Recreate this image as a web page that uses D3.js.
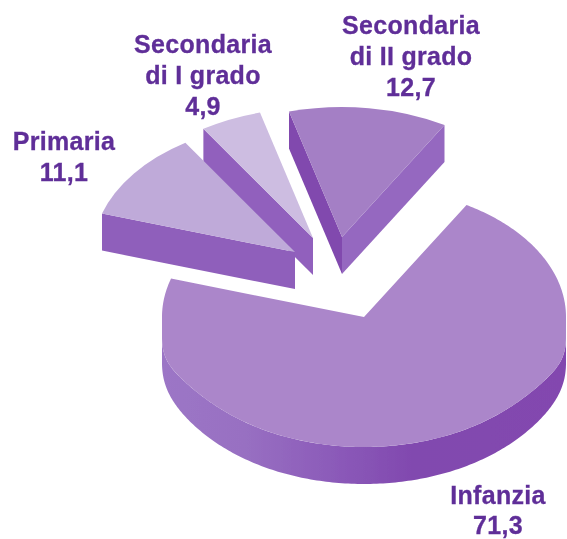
<!DOCTYPE html>
<html><head><meta charset="utf-8">
<script src="https://cdn.jsdelivr.net/npm/d3@7"></script>
<style>html,body{margin:0;padding:0;background:#fff}svg{display:block}</style>
</head><body><div id="c"></div>
<script>
const categories = ["Infanzia","Primaria","Secondaria di I grado","Secondaria di II grado"];
const values = [71.3, 11.1, 4.9, 12.7];
const valueLabels = ["71,3","11,1","4,9","12,7"];
const labelLines = [["Infanzia"],["Primaria"],["Secondaria","di I grado"],["Secondaria","di II grado"]];

// layout and style
const W=567,H=539,CX=364,CY=317,RX=202,RY=130,DEPTH=37,K=RY/RX,BULGE=20;
const rad=d=>d*Math.PI/180;
const explode=[[0,0],[-69,-65],[-51,-79],[-22,-80]];
const topFill=["#ab86ca","#bfaad9","#cdbde1","#a47fc5"];
const labelPos=[[498,503.5],[64,150],[203,53],[411,34]];
const labelLH=[30,31,31,31];
const drawOrder=[3,2,1,0];
const sideWalls={3:[["start","#8148ae"],["end","#9568c0"]],2:[["start","#9161bd"]],1:[["start","#8f5fbb"]],0:[]};

const svg=d3.select("#c").append("svg").attr("width",W).attr("height",H).attr("viewBox",`0 0 ${W} ${H}`);
const defs=svg.append("defs");
defs.append("filter").attr("id","soft").append("feGaussianBlur").attr("stdDeviation",0.45);
const grad=defs.append("linearGradient").attr("id","rim").attr("gradientUnits","userSpaceOnUse")
  .attr("x1",-RX).attr("x2",RX).attr("y1",0).attr("y2",0);
[[0,"#9c76c6"],[0.2,"#9870c2"],[0.45,"#8a58b8"],[0.62,"#8149af"],[1,"#8347af"]]
  .forEach(([o,c])=>grad.append("stop").attr("offset",o).attr("stop-color",c));

const pie=d3.pie().sort(null).startAngle(rad(30.5)).endAngle(rad(390.5));
const arcs=pie(values);
const arc=d3.arc().innerRadius(0).outerRadius(RX);
const px=a=>RX*Math.sin(a), py=a=>-RY*Math.cos(a);
// the lower half of the big slice sags a little near its side extremes
const isLower=a=>Math.cos(a)<0;
const sag=a=>isLower(a)?Math.pow(Math.abs(Math.sin(a)),12):0;
const yTop=a=>py(a)+BULGE*sag(a);
const yBot=a=>yTop(a)+DEPTH*(1-0.3*sag(a));
const line=d3.line();
const root=svg.append("g").attr("filter","url(#soft)");

drawOrder.forEach(i=>{
  const a=arcs[i],[ox,oy]=explode[i];
  const g=root.append("g").attr("transform",`translate(${CX+ox},${CY+oy})`);
  sideWalls[i].forEach(([edge,col])=>{
    const t=edge==="start"?a.startAngle:a.endAngle;
    const e=[px(t),py(t)];
    g.append("path").attr("fill",col)
      .attr("d",line([[0,0],e,[e[0],e[1]+DEPTH],[0,DEPTH]])+"Z");
  });
  if(i===0){
    const n=200,lo=rad(90.001),hi=rad(269.999);
    const sweep=d3.range(n+1).map(j=>lo+(hi-lo)*j/n);
    const pts=sweep.map(t=>[px(t),yTop(t)]).concat(sweep.slice().reverse().map(t=>[px(t),yBot(t)]));
    g.append("path").attr("fill","url(#rim)").attr("d",line(pts)+"Z");
    const m=360;
    const face=d3.range(m+1).map(j=>a.startAngle+(a.endAngle-a.startAngle)*j/m);
    g.append("path").attr("fill",topFill[i])
      .attr("d",line([[0,0]].concat(face.map(t=>[px(t),yTop(t)])))+"Z");
  } else {
    g.append("path").attr("fill",topFill[i])
      .attr("transform",`scale(1,${K})`).attr("d",arc(a));
  }
});

const labels=svg.append("g").attr("filter","url(#soft)");
categories.forEach((c,i)=>{
  const [x,y]=labelPos[i];
  const t=labels.append("text").attr("text-anchor","middle")
    .attr("font-family","'Liberation Sans',Arial,sans-serif").attr("font-weight","bold")
    .attr("font-size",25).attr("letter-spacing",0.3).attr("fill","#5f2e98")
    .attr("stroke","#5f2e98").attr("stroke-width",0.3);
  labelLines[i].concat([valueLabels[i]]).forEach((s,j)=>{
    t.append("tspan").attr("x",x).attr("y",y+j*labelLH[i]).text(s);
  });
});
</script></body></html>
